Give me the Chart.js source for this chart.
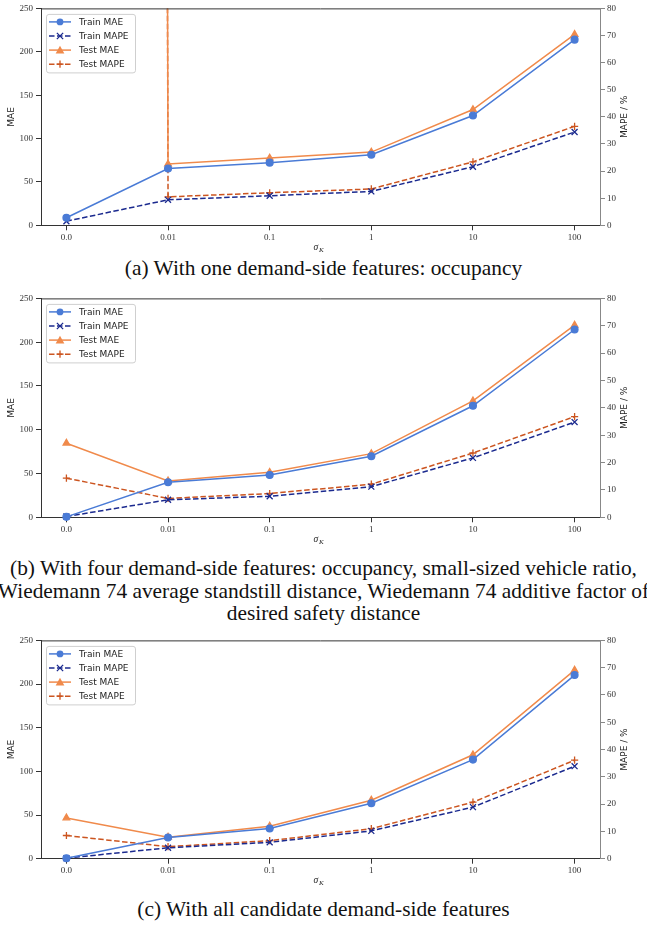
<!DOCTYPE html>
<html>
<head>
<meta charset="utf-8">
<script src="https://cdn.jsdelivr.net/npm/chart.js@4.4.1/dist/chart.umd.min.js"></script>
<style>
  html, body { margin: 0; padding: 0; background: #fff; }
  body { width: 647px; height: 925px; position: relative; overflow: hidden; }
  .panel { position: absolute; left: 0; width: 647px; }
  .panel canvas { display: block; }
  .cap {
    position: absolute; left: -60px; width: 767px; text-align: center;
    font-family: "Liberation Serif", "Times New Roman", serif;
    font-size: 21.4px; line-height: 22.5px; color: #111; white-space: nowrap;
  }
</style>
</head>
<body>
<div class="panel" style="top:0px"><canvas id="chartA" width="647" height="254"></canvas></div>
<div class="cap" style="top:257px">(a) With one demand-side features: occupancy</div>
<div class="panel" style="top:290px"><canvas id="chartB" width="647" height="254"></canvas></div>
<div class="cap" style="top:557px">(b) With four demand-side features: occupancy, small-sized vehicle ratio,<br>Wiedemann 74 average standstill distance, Wiedemann 74 additive factor of<br>desired safety distance</div>
<div class="panel" style="top:632px"><canvas id="chartC" width="647" height="254"></canvas></div>
<div class="cap" style="top:898px">(c) With all candidate demand-side features</div>

<script>
// sigma_K settings on the x axis
const sigmaLabels = ['0.0', '0.01', '0.1', '1', '10', '100'];
const maeTicks = [0, 50, 100, 150, 200, 250];
const mapeTicks = [0, 10, 20, 30, 40, 50, 60, 70, 80];

// (a) one demand-side feature (test error at sigma 0 is far off the scale)
const trainMaeA  = [8.7, 65.4, 72.2, 81.4, 126.5, 214.0];
const trainMapeA = [1.5, 9.4, 10.9, 12.5, 21.6, 34.4];
const testMaeA   = [50000, 70.6, 77.5, 84.4, 133.4, 220.0];
const testMapeA  = [20000, 10.5, 12.0, 13.4, 23.4, 36.5];

// (b) four demand-side features
const trainMaeB  = [0.5, 40.0, 48.3, 69.7, 127.4, 214.5];
const trainMapeB = [0.3, 6.4, 7.7, 11.2, 21.7, 34.8];
const testMaeB   = [84.6, 41.5, 51.4, 72.7, 133.0, 219.5];
const testMapeB  = [14.3, 6.9, 8.7, 12.1, 23.5, 36.8];

// (c) all candidate demand-side features
const trainMaeC  = [0.5, 24.3, 34.6, 63.5, 113.5, 210.3];
const trainMapeC = [0.2, 4.0, 6.0, 10.2, 18.9, 33.9];
const testMaeC   = [46.7, 24.7, 37.2, 67.0, 119.0, 216.0];
const testMapeC  = [8.5, 4.4, 6.6, 11.0, 20.7, 36.1];

const COL = {
  trainMae: '#4a7bd6',
  trainMape: '#1b2a8f',
  testMae: '#f08a4b',
  testMape: '#cc5520'
};
const DASH = [5.5, 2.5];
const tickFont = { family: '"Liberation Serif", "DejaVu Serif", serif', size: 9 };
const sansFont = '9px "DejaVu Sans", sans-serif';

function pts(arr) { return arr.map((v, i) => ({ x: i, y: v })); }

function series(label, values, axis, color, style, dashed, radius) {
  return {
    label, data: pts(values), yAxisID: axis,
    borderColor: color, backgroundColor: color,
    borderWidth: 1.5, borderDash: dashed ? DASH : [],
    pointStyle: style, pointRadius: radius, pointBorderWidth: 1.3,
    pointBackgroundColor: color, pointBorderColor: color,
    tension: 0, fill: false,
    clip: { left: 8, right: 8, top: 0, bottom: 8 }
  };
}

// marker drawing for the legend handles
function marker(ctx, style, x, y, r, color) {
  ctx.save();
  ctx.fillStyle = color; ctx.strokeStyle = color; ctx.lineWidth = 1.3; ctx.setLineDash([]);
  ctx.beginPath();
  if (style === 'circle') {
    ctx.arc(x, y, r, 0, Math.PI * 2); ctx.fill();
  } else if (style === 'triangle') {
    const h = r * 1.15;
    ctx.moveTo(x, y - h); ctx.lineTo(x + h, y + h * 0.75); ctx.lineTo(x - h, y + h * 0.75);
    ctx.closePath(); ctx.fill();
  } else if (style === 'crossRot') {
    const d = r * 0.75;
    ctx.moveTo(x - d, y - d); ctx.lineTo(x + d, y + d);
    ctx.moveTo(x + d, y - d); ctx.lineTo(x - d, y + d); ctx.stroke();
  } else {
    ctx.moveTo(x - r, y); ctx.lineTo(x + r, y);
    ctx.moveTo(x, y - r); ctx.lineTo(x, y + r); ctx.stroke();
  }
  ctx.restore();
}

const decorations = {
  id: 'decorations',
  afterDraw(chart) {
    const { ctx, chartArea: a } = chart;
    ctx.save();
    // top spine
    ctx.strokeStyle = '#333'; ctx.lineWidth = 1;
    ctx.beginPath(); ctx.moveTo(a.left, a.top + 0.5); ctx.lineTo(a.right, a.top + 0.5); ctx.stroke();

    // axis titles
    ctx.fillStyle = '#222'; ctx.font = sansFont;
    ctx.textAlign = 'center'; ctx.textBaseline = 'middle';
    const midY = (a.top + a.bottom) / 2;
    ctx.save(); ctx.translate(12, midY); ctx.rotate(-Math.PI / 2); ctx.fillText('MAE', 0, 0); ctx.restore();
    ctx.save(); ctx.translate(625, midY); ctx.rotate(-Math.PI / 2); ctx.fillText('MAPE / %', 0, 0); ctx.restore();

    // sigma_K x-axis title
    const cx = (a.left + a.right) / 2 - 3;
    const ty = a.bottom + 22;
    ctx.font = 'italic 9.5px "Liberation Serif", "DejaVu Serif", serif';
    ctx.textAlign = 'left';
    ctx.fillText('σ', cx - 4, ty);
    ctx.font = 'italic 7px "Liberation Serif", "DejaVu Serif", serif';
    ctx.fillText('K', cx + 1.4, ty + 2.5);

    // legend
    const bx = a.left + 5, by = a.top + 5.5, bw = 89, bh = 58.5;
    ctx.fillStyle = 'rgba(255,255,255,0.85)'; ctx.strokeStyle = '#cfcfcf'; ctx.lineWidth = 1;
    ctx.beginPath();
    if (ctx.roundRect) ctx.roundRect(bx + 0.5, by + 0.5, bw, bh, 2.5); else ctx.rect(bx + 0.5, by + 0.5, bw, bh);
    ctx.fill(); ctx.stroke();
    ctx.font = sansFont; ctx.textBaseline = 'middle'; ctx.textAlign = 'left';
    chart.data.datasets.forEach((ds, i) => {
      const y = a.top + 13.5 + i * 14.1;
      ctx.strokeStyle = ds.borderColor; ctx.lineWidth = 1.5;
      ctx.setLineDash(ds.borderDash);
      ctx.beginPath(); ctx.moveTo(a.left + 8, y); ctx.lineTo(a.left + 30, y); ctx.stroke();
      ctx.setLineDash([]);
      marker(ctx, ds.pointStyle, a.left + 19, y, ds.pointRadius, ds.borderColor);
      ctx.fillStyle = '#222';
      ctx.fillText(ds.label, a.left + 38, y + 0.5);
    });
    ctx.restore();
  }
};

function makeChart(id, trainMae, trainMape, testMae, testMape, topPad, plotH, canvasH) {
  const xAxisH = canvasH - topPad - plotH;
  return new Chart(document.getElementById(id), {
    type: 'line',
    data: {
      datasets: [
        series('Train MAE', trainMae, 'yMae', COL.trainMae, 'circle', false, 3.4),
        series('Train MAPE', trainMape, 'yMape', COL.trainMape, 'crossRot', true, 4.2),
        series('Test MAE', testMae, 'yMae', COL.testMae, 'triangle', false, 3.8),
        series('Test MAPE', testMape, 'yMape', COL.testMape, 'cross', true, 3.6)
      ]
    },
    options: {
      responsive: false, animation: false, events: [],
      layout: { padding: { top: topPad, left: 0, right: 0, bottom: 0 } },
      plugins: { legend: { display: false }, tooltip: { enabled: false } },
      scales: {
        x: {
          type: 'linear', min: -0.25, max: 5.25,
          afterBuildTicks: s => { s.ticks = sigmaLabels.map((_, i) => ({ value: i })); },
          afterFit: s => { s.height = xAxisH; },
          ticks: { callback: v => sigmaLabels[v], font: tickFont, color: '#333', padding: 1.5, maxRotation: 0, autoSkip: false },
          grid: { display: true, drawOnChartArea: false, drawTicks: true, tickLength: 5, color: '#333', lineWidth: 1 },
          border: { display: true, color: '#333', width: 1 }
        },
        yMae: {
          type: 'linear', position: 'left', min: 0, max: 250,
          afterBuildTicks: s => { s.ticks = maeTicks.map(v => ({ value: v })); },
          afterFit: s => { s.width = 41; },
          ticks: { font: tickFont, color: '#333', padding: 3 },
          grid: { display: true, drawOnChartArea: false, drawTicks: true, tickLength: 5, color: '#333', lineWidth: 1 },
          border: { display: true, color: '#333', width: 1 }
        },
        yMape: {
          type: 'linear', position: 'right', min: 0, max: 80,
          afterBuildTicks: s => { s.ticks = mapeTicks.map(v => ({ value: v })); },
          afterFit: s => { s.width = 47; },
          ticks: { font: tickFont, color: '#333', padding: 2 },
          grid: { display: true, drawOnChartArea: false, drawTicks: true, tickLength: 5, color: '#888', lineWidth: 1 },
          border: { display: true, color: '#888', width: 1 }
        }
      }
    },
    plugins: [decorations]
  });
}

makeChart('chartA', trainMaeA, trainMapeA, testMaeA, testMapeA, 7, 218.3, 254);
makeChart('chartB', trainMaeB, trainMapeB, testMaeB, testMapeB, 6.7, 220.6, 254);
makeChart('chartC', trainMaeC, trainMapeC, testMaeC, testMapeC, 7, 219.7, 254);
</script>
</body>
</html>
